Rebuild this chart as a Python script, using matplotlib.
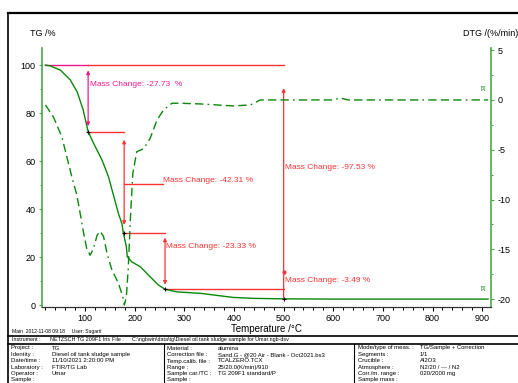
import matplotlib

matplotlib.use("Agg")

import matplotlib.pyplot as plt
from matplotlib.ticker import MultipleLocator

plt.rcParams["font.family"] = ["Liberation Sans", "DejaVu Sans"]
plt.rcParams["axes.unicode_minus"] = False

# TG curve (temperature in °C, mass in %)
tg_temp = [20, 30, 50, 70, 84, 96, 106, 117, 134, 147, 157, 167, 174, 177, 183, 185,
           194, 211, 231, 248, 261, 285, 332, 398, 440, 500, 600, 700, 800, 900, 912]
tg_mass = [100, 99.6, 97.9, 93.8, 88.8, 81.3, 72.3, 67.4, 60.4, 53.5, 45.8, 38.2, 34.0,
           30.0, 24.3, 20.1, 18.0, 16.0, 11.8, 8.3, 6.6, 5.5, 4.9, 3.2, 2.8, 2.6, 2.5,
           2.5, 2.5, 2.5, 2.5]

# DTG curve (%/min)
dtg_temp = [20, 36, 53, 63, 73, 83, 90, 97, 103, 110, 117, 124, 130, 137, 144, 154, 167,
            176, 179, 183, 187, 191, 196, 204, 218, 231, 245, 258, 275, 292, 332, 398,
            433, 453, 600, 614, 630, 912]
dtg_rate = [-0.5, -1.7, -3.7, -5.7, -7.7, -9.5, -11.4, -13.4, -14.9, -15.6, -14.9, -13.6,
            -13.2, -13.7, -15.4, -17.1, -18.4, -19.8, -20.6, -19.8, -16.8, -12.1, -7.4,
            -5.2, -4.9, -3.85, -2.0, -1.0, -0.33, -0.33, -0.4, -0.6, -0.5, 0.0, 0.0, 0.2,
            0.0, 0.0]

# mass change steps
step_temp = [106, 178.6, 261]
step_top = [100, 72.3, 30.0]
step_bottom = [72.3, 30.0, 6.6]
step_text = ["Mass Change: -27.73  %", "Mass Change: -42.31 %", "Mass Change: -23.33 %"]
step_text_temp = [110, 257, 263]
step_text_mass = [92, 51.7, 24.2]

total_temp = 500
total_text = ["Mass Change: -97.53 %", "Mass Change: -3.49 %"]
total_text_mass = [57.5, 10.4]

GREEN = "#0b870b"
SPINE_GREEN = "#4aa84a"
RED = "#ff3333"
PINK = "#f0198c"

fig = plt.figure(figsize=(5.18, 3.83), dpi=100)

# page overlay in pixel coordinates for frame and info table
page = fig.add_axes([0, 0, 1, 1])
page.set_xlim(0, 518)
page.set_ylim(383, 0)
page.axis("off")
page.plot([8, 518], [13, 13], color="black", lw=1.6)
page.plot([8, 8], [13, 383], color="black", lw=1.2)
page.plot([8, 518], [335.5, 335.5], color="black", lw=1.2)
page.plot([8, 518], [343.5, 343.5], color="black", lw=1.2)
page.plot([164, 164], [343.5, 383], color="black", lw=0.8)
page.plot([354, 354], [343.5, 383], color="black", lw=0.8)

small = 4.3
page.text(12, 331, "Main  2012-11-08 09:18     User: Sugarti", fontsize=3.6, va="center")
page.text(12, 339.5, "Instrument :", fontsize=3.9, va="center")
page.text(50, 339.5, "NETZSCH TG 209F1 Iris", fontsize=3.9, va="center")
page.text(112, 339.5, "File :", fontsize=3.9, va="center")
page.text(132, 339.5, "C:\\ngbwin\\data\\tg\\Diesel oil tank sludge sample for Umar.ngb-dsv",
          fontsize=3.9, va="center")

row_y = [348, 354.5, 361, 367.2, 373.5, 380]
left_labels = ["Project :", "Identity :", "Date/time :", "Laboratory :", "Operator :", "Sample :"]
left_values = ["TG", "Diesel oil tank sludge sample", "11/10/2021 2:20:00 PM", "FTIR/TG Lab",
               "Umar", ""]
mid_labels = ["Material :", "Correction file :", "Temp.calib. file :", "Range :",
              "Sample car./TC :", "Sample :"]
mid_values = ["alumina", "Sand.G - @20 Air - Blank - Oct2021.bs3", "TCALZERO.TCX",
              "25/20.0(K/min)/910", "TG 209F1 standard/P", ""]
right_labels = ["Mode/type of meas. :", "Segments :", "Crucible :", "Atmosphere :",
                "Corr./m. range :", "Sample mass :"]
right_values = ["TG/Sample + Correction", "1/1", "Al2O3", "N2/20 / --- / N2",
                "020/2000 mg", ""]
for y, a, b, c, d, e, f in zip(row_y, left_labels, left_values, mid_labels, mid_values,
                               right_labels, right_values):
    page.text(11, y, a, fontsize=small, va="center")
    page.text(52, y, b, fontsize=small, va="center")
    page.text(167, y, c, fontsize=small, va="center")
    page.text(218, y, d, fontsize=small, va="center")
    page.text(358, y, e, fontsize=small, va="center")
    page.text(420, y, f, fontsize=small, va="center")

# main chart
ax = fig.add_axes([0.082, 0.1984, 0.866, 0.6763])
ax.patch.set_alpha(0)
ax2 = ax.twinx()

ax.plot(tg_temp, tg_mass, color=GREEN, lw=1.0, zorder=3)
ax2.plot(dtg_temp, dtg_rate, color=GREEN, lw=1.0,
         linestyle=(0, (6, 3, 6, 3, 6, 3, 1.2, 3)))

ax.set_xlim(14, 918)
ax.set_ylim(-0.8, 107.1)
ax2.set_ylim(-20.8, 5.22)

ax.xaxis.set_major_locator(MultipleLocator(100))
ax.xaxis.set_minor_locator(MultipleLocator(20))
ax.yaxis.set_major_locator(MultipleLocator(20))
ax.yaxis.set_minor_locator(MultipleLocator(10))
ax2.yaxis.set_major_locator(MultipleLocator(5))
ax2.yaxis.set_minor_locator(MultipleLocator(2.5))

for a in (ax, ax2):
    a.spines["top"].set_visible(False)
    a.spines["left"].set_color(SPINE_GREEN)
    a.spines["right"].set_color(SPINE_GREEN)
    a.spines["left"].set_linewidth(1.2)
    a.spines["right"].set_linewidth(1.2)
    a.spines["bottom"].set_color("#333333")
    a.spines["bottom"].set_linewidth(0.8)
ax.spines["right"].set_visible(False)
ax2.spines["left"].set_visible(False)

ax.tick_params(axis="x", which="major", length=3, width=0.8, labelsize=6.5, pad=2)
ax.tick_params(axis="x", which="minor", length=2.5, width=0.7)
ax.tick_params(axis="y", which="major", length=2, width=0.8, color=SPINE_GREEN,
               labelsize=6.5, pad=3)
ax.tick_params(axis="y", which="minor", length=1.5, width=0.7, color=SPINE_GREEN)
ax2.tick_params(axis="y", which="major", length=2.5, width=0.8, color=SPINE_GREEN,
                labelsize=6.5, pad=2)
ax2.tick_params(axis="y", which="minor", length=1.5, width=0.7, color=SPINE_GREEN)
ax.set_xticks(range(100, 901, 100))
ax.set_yticks(range(0, 101, 20))
ax2.set_yticks(range(-20, 6, 5))

ax.set_xlabel("Temperature /°C", fontsize=7, labelpad=1)
fig.text(30 / 518, 1 - 34 / 383, "TG /%", fontsize=6.5, va="center")
fig.text(463 / 518, 1 - 34 / 383, "DTG /(%/min)", fontsize=6.5, va="center")

# mass change annotations
ax.plot([20, 106], [100, 100], color=PINK, lw=1.0)
ax.plot([106, total_temp], [100, 100], color=RED, lw=1.0)
ax.plot([step_temp[0], step_temp[1]], [step_bottom[0], step_bottom[0]], color=RED, lw=1.0)
ax.plot([step_temp[1], step_temp[2]], [step_bottom[1], step_bottom[1]], color=RED, lw=1.0)
ax.plot([step_temp[2], total_temp], [step_bottom[2], step_bottom[2]], color=RED, lw=1.0)
ax.plot([step_temp[1], step_text_temp[1]], [50.4, 50.4], color=RED, lw=1.0)

for i, (t, top, bot) in enumerate(zip(step_temp, step_top, step_bottom)):
    col = PINK if i == 0 else RED
    pad = 0.08 * (top - bot)
    ax.annotate("", xy=(t, bot + 0.08 * (top - bot)), xytext=(t, top - pad),
                arrowprops=dict(arrowstyle="<|-|>", color=col, lw=0.9, mutation_scale=5,
                                shrinkA=0, shrinkB=0))
    ax.text(step_text_temp[i], step_text_mass[i], step_text[i], color=col, fontsize=6,
            va="center", ha="left")

ax.annotate("", xy=(total_temp, 2.9), xytext=(total_temp, 90.4),
            arrowprops=dict(arrowstyle="<|-", color=RED, lw=0.9, mutation_scale=5,
                            shrinkA=0, shrinkB=0))
ax.plot([total_temp], [13.7], marker="o", ms=2, color=RED)
for txt, m in zip(total_text, total_text_mass):
    ax.text(total_temp + 3, m, txt, color=RED, fontsize=6, va="center", ha="left")

ax.plot([106, 178.6, 261, 500], [72.3, 30.0, 6.6, 2.5], marker="+", ms=3, mew=0.8,
        color="black", lw=0, zorder=5)

ax.text(903, 7, "[3]", color=GREEN, fontsize=3.5, ha="center", va="center")
ax2.text(903, 1.2, "[3]", color=GREEN, fontsize=3.5, ha="center", va="center")

fig.savefig("out.png", dpi=100)
